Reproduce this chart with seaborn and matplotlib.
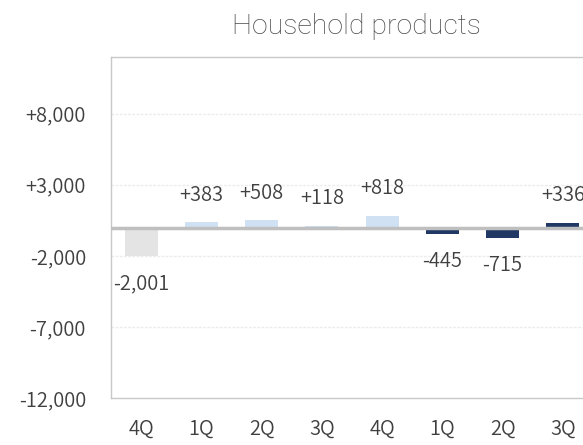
import matplotlib
matplotlib.use("Agg")
import matplotlib.pyplot as plt
import seaborn as sns
import pandas as pd

quarters = ["4Q", "1Q", "2Q", "3Q", "4Q", "1Q", "2Q", "3Q"]
values = [-2001, 383, 508, 118, 818, -445, -715, 336]
groups = ["prev", "mid", "mid", "mid", "mid", "cur", "cur", "cur"]
labels = ["-2,001", "+383", "+508", "+118", "+818", "-445", "-715", "+336"]
yticks = [-12000, -7000, -2000, 3000, 8000]
ytick_labels = ["-12,000", "-7,000", "-2,000", "+3,000", "+8,000"]

palette = {"prev": "#e4e4e4", "mid": "#cfe1f2", "cur": "#203864"}

sns.set_theme(style="white")
plt.rcParams["font.family"] = ["Noto Sans CJK JP", "DejaVu Sans"]
plt.rcParams["font.weight"] = 350

df = pd.DataFrame({"pos": [str(i) for i in range(len(values))],
                   "value": values, "group": groups})

fig = plt.figure(figsize=(5.83, 4.45), dpi=100)
W, H = 583, 445
left, right, top, bottom = 111, 593, 57, 398
ax = fig.add_axes([left / W, 1 - bottom / H, (right - left) / W, (bottom - top) / H])

sns.barplot(data=df, x="pos", y="value", hue="group", palette=palette,
            dodge=False, width=0.55, legend=False, ax=ax, saturation=1)
for p in ax.patches:
    p.set_edgecolor("none")

ax.set_ylim(-12000, 12000)
ax.set_xlim(-0.5, 7.5)
ax.set_yticks(yticks)
ax.set_yticklabels(ytick_labels)
ax.set_xticks(range(len(quarters)))
ax.set_xticklabels(quarters)
ax.set_xlabel("")
ax.set_ylabel("")

for y in yticks[1:]:
    ax.axhline(y, color="#ececec", lw=1, ls=(0, (2, 1)), zorder=0)
ax.axhline(0, color="#bfbfbf", lw=2.5, zorder=3)

for sp in ["left", "bottom", "top"]:
    ax.spines[sp].set_color("#c8c8c8")
    ax.spines[sp].set_linewidth(1)
ax.spines["right"].set_visible(False)

fs = 14.5
ax.tick_params(axis="both", length=0, labelsize=fs, colors="#404040")
ax.tick_params(axis="y", pad=18)
ax.tick_params(axis="x", pad=15)

for i, (v, lab) in enumerate(zip(values, labels)):
    if v >= 0:
        ax.annotate(lab, (i, v), xytext=(0, 27), textcoords="offset pixels",
                    ha="center", va="center", fontsize=fs, color="#404040")
    else:
        ax.annotate(lab, (i, v), xytext=(0, -28), textcoords="offset pixels",
                    ha="center", va="center", fontsize=fs, color="#404040")

fig.text(356 / W, 1 - 27 / H, "Household products", ha="center", va="center",
         fontsize=20.5, color="#4a4a4a", family=["Roboto", "DejaVu Sans"],
         fontweight="light")

fig.savefig("out.png", dpi=100)
